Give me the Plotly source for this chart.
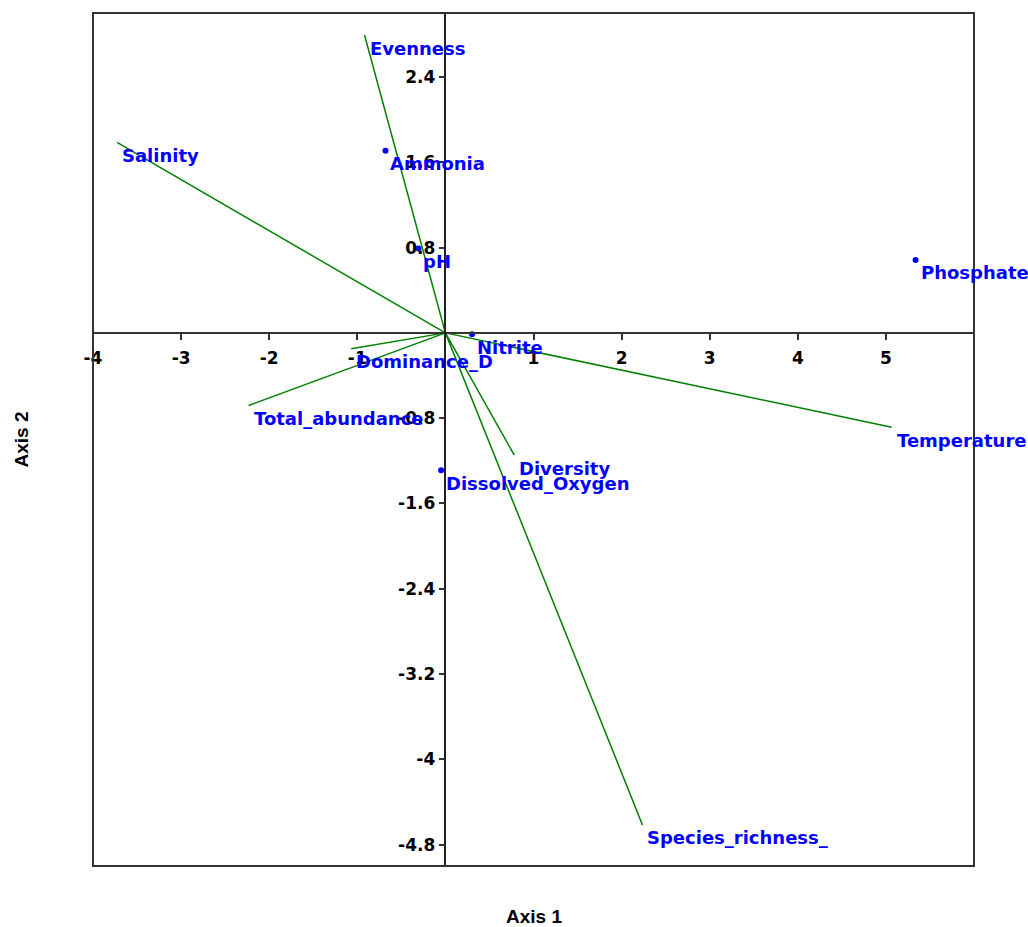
import plotly.graph_objects as go

# Biplot vectors (green lines from origin)
vec_names = ["Evenness", "Salinity", "Temperature", "Species_richness_",
             "Total_abundance", "Diversity", "Dominance_D"]
vec_x = [-0.918, -3.727, 5.065, 2.237, -2.234, 0.782, -1.069]
vec_y = [2.793, 1.786, -0.885, -4.615, -0.681, -1.147, -0.148]

# Points (blue dots)
pt_names = ["Ammonia", "pH", "Phosphate", "Nitrite", "Dissolved_Oxygen"]
pt_x = [-0.680, -0.306, 5.337, 0.303, -0.049]
pt_y = [1.707, 0.791, 0.684, -0.014, -1.288]

# Tick labels
x_ticks = [-4, -3, -2, -1, 1, 2, 3, 4, 5]
x_ticktext = ["-4", "-3", "-2", "-1", "1", "2", "3", "4", "5"]
y_ticks = [2.4, 1.6, 0.8, -0.8, -1.6, -2.4, -3.2, -4, -4.8]
y_ticktext = ["2.4", "1.6", "0.8", "-0.8", "-1.6", "-2.4", "-3.2", "-4", "-4.8"]

LABEL_FONT = "DejaVu Sans, Verdana, sans-serif"
TITLE_FONT = "Liberation Sans, Arial, sans-serif"
GREEN = "#008000"
BLUE = "#0000FF"

lx, ly = [], []
for x, y in zip(vec_x, vec_y):
    lx += [0, x, None]
    ly += [0, y, None]

fig = go.Figure()
fig.add_trace(go.Scatter(x=lx, y=ly, mode="lines",
                         line=dict(color=GREEN, width=1.5),
                         hoverinfo="skip", showlegend=False))
fig.add_trace(go.Scatter(x=pt_x, y=pt_y, mode="markers",
                         marker=dict(color=BLUE, size=6),
                         text=pt_names, showlegend=False))

H_PLOT = 927 - 13 - 61
W_PLOT = 1028 - 93 - 54

annotations = []
for n, x, y in list(zip(vec_names, vec_x, vec_y)) + list(zip(pt_names, pt_x, pt_y)):
    annotations.append(dict(x=x, y=y, xref="x", yref="y", text=n,
                            showarrow=False, xanchor="left", yanchor="middle",
                            xshift=3, yshift=-13,
                            font=dict(family=LABEL_FONT, size=18, color=BLUE, weight="bold")))
annotations.append(dict(x=0.5, y=-50 / H_PLOT, xref="paper", yref="paper",
                        xanchor="center", yanchor="middle",
                        text="Axis 1", showarrow=False,
                        font=dict(family=TITLE_FONT, size=19, color="black", weight="bold")))
annotations.append(dict(x=-72 / W_PLOT, y=0.5, xref="paper", yref="paper",
                        xanchor="center", yanchor="middle",
                        text="Axis 2", showarrow=False, textangle=-90,
                        font=dict(family=TITLE_FONT, size=19, color="black", weight="bold")))

fig.update_layout(
    width=1028, height=927, autosize=False,
    margin=dict(l=93, r=54, t=13, b=61),
    plot_bgcolor="white", paper_bgcolor="white",
    annotations=annotations,
    shapes=[dict(type="rect", xref="paper", yref="paper", x0=0, x1=1, y0=0, y1=1,
                 line=dict(color="#333333", width=2), layer="above")],
    xaxis=dict(range=[-4, 6], tickvals=x_ticks, ticktext=x_ticktext,
               ticks="outside", ticklen=6, tickwidth=1.5, tickcolor="#333333",
               showline=True, linecolor="#333333", linewidth=2,
               anchor="free", position=0.625, showgrid=False, zeroline=False,
               ticklabelstandoff=4,
               tickfont=dict(family=LABEL_FONT, size=17, color="black", weight="bold")),
    yaxis=dict(range=[-5, 3], tickvals=y_ticks, ticktext=y_ticktext,
               ticks="outside", ticklen=6, tickwidth=1.5, tickcolor="#333333",
               showline=True, linecolor="#222222", linewidth=1.5,
               anchor="free", position=0.4, showgrid=False, zeroline=False,
               tickfont=dict(family=LABEL_FONT, size=17, color="black", weight="bold")),
)

fig.write_html("out.html", config={"displayModeBar": False},
               post_script="document.body.style.margin='0px';document.body.style.overflow='hidden';")
